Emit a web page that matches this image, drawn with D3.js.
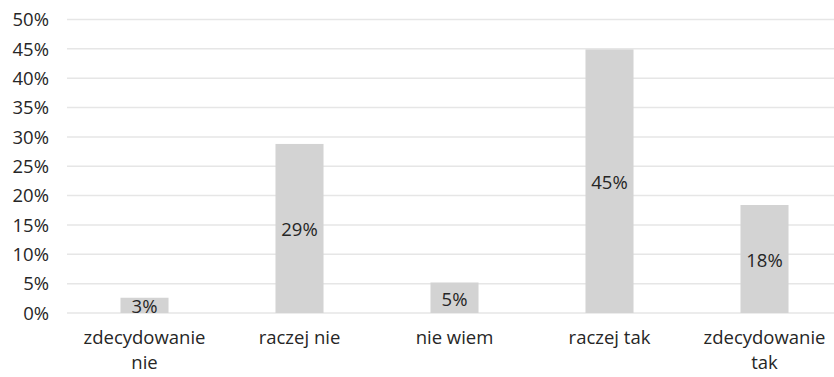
<!DOCTYPE html>
<html><head><meta charset="utf-8">
<script src="https://cdn.jsdelivr.net/npm/d3@7"></script>
<style>body{margin:0;background:#fff;} svg{display:block;}</style>
</head><body>
<svg id="c" width="834" height="377"></svg>
<script>
const categories = [["zdecydowanie","nie"],["raczej nie"],["nie wiem"],["raczej tak"],["zdecydowanie","tak"]];
const values = [2.6, 28.8, 5.2, 44.9, 18.4];
const labels = ["3%","29%","5%","45%","18%"];
const yTicks = [0,5,10,15,20,25,30,35,40,45,50];

const svg = d3.select("#c");
const font = "'Open Sans', sans-serif";
const fs = 18.5;
const x = d3.scaleBand().domain(d3.range(values.length)).range([67, 842]).paddingInner(0.69).paddingOuter(0.345);
const y = d3.scaleLinear().domain([0,50]).range([313, 19.5]);

svg.append("g").selectAll("line").data(yTicks).join("line")
  .attr("x1", 67).attr("x2", 834)
  .attr("y1", d=>y(d)).attr("y2", d=>y(d))
  .attr("stroke", "#e6e6e6").attr("stroke-width", 1.5);

svg.append("g").selectAll("text").data(yTicks).join("text")
  .attr("x", 49).attr("y", d=>y(d)).attr("dy", "0.36em")
  .attr("text-anchor","end").attr("font-family", font).attr("font-size", fs)
  .attr("fill","#262626").text(d=>d+"%");

svg.append("g").selectAll("rect").data(values).join("rect")
  .attr("x",(d,i)=>x(i)).attr("width", x.bandwidth())
  .attr("y", d=>y(d)).attr("height", d=>y(0)-y(d))
  .attr("fill","#d3d3d3");

svg.append("g").selectAll("text").data(values).join("text")
  .attr("x",(d,i)=>x(i)+x.bandwidth()/2)
  .attr("y", d=>(y(d)+y(0))/2).attr("dy","0.42em")
  .attr("text-anchor","middle").attr("font-family", font).attr("font-size", fs)
  .attr("fill","#262626").text((d,i)=>labels[i]);

const catG = svg.append("g");
categories.forEach((lines, i) => {
  lines.forEach((ln, j) => {
    catG.append("text")
      .attr("x", x(i) + x.bandwidth()/2).attr("y", 344 + j*25)
      .attr("text-anchor","middle").attr("font-family", font).attr("font-size", fs)
      .attr("fill","#262626").text(ln);
  });
});
</script>
</body></html>
